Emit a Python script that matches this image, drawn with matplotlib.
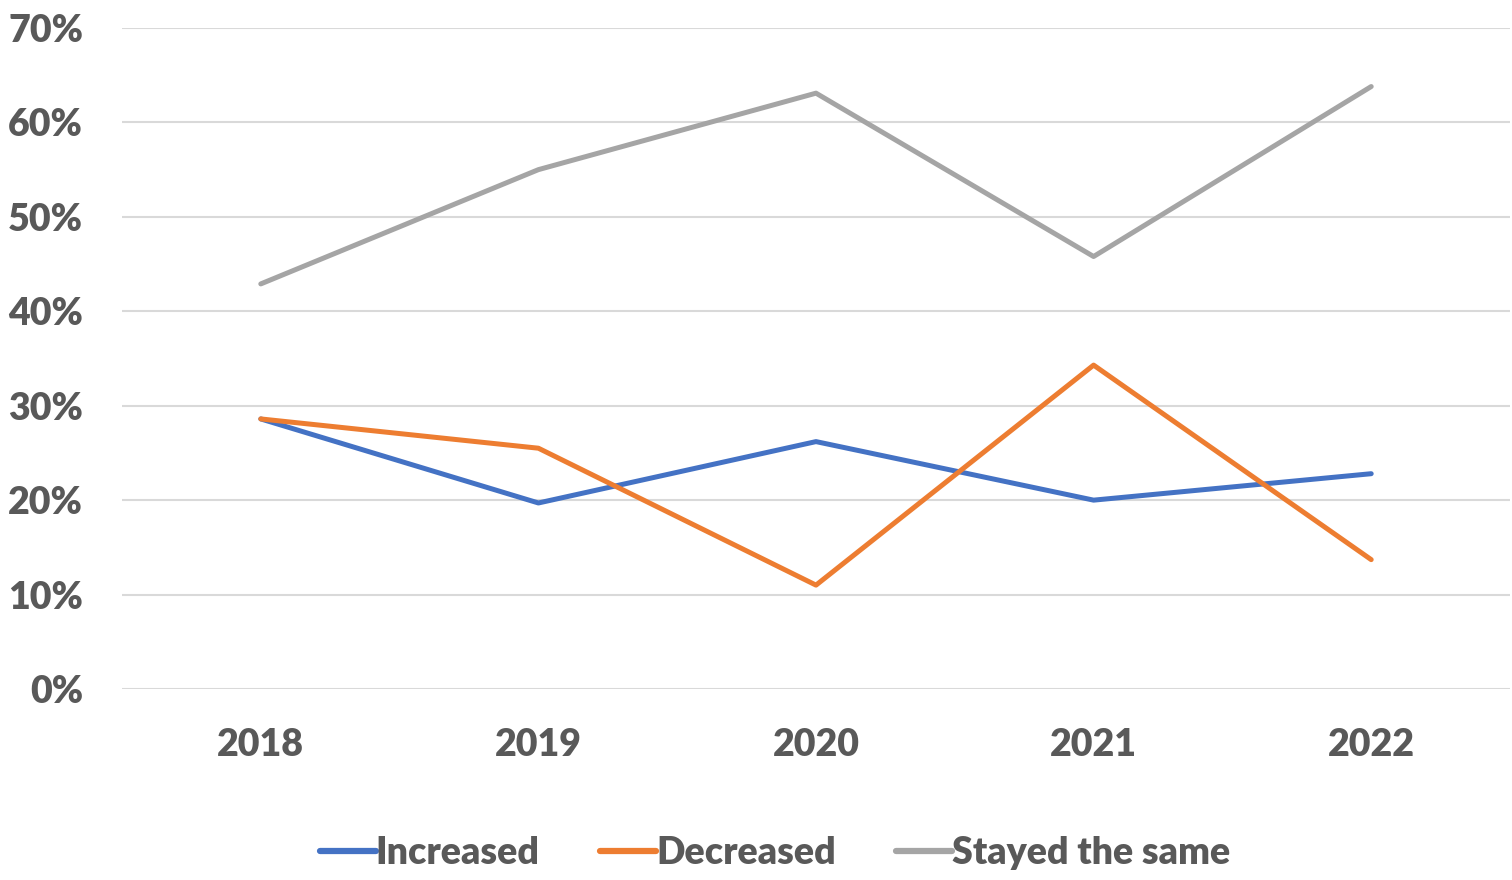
import matplotlib
matplotlib.use("Agg")
import matplotlib.pyplot as plt
from matplotlib.ticker import FuncFormatter

years = ["2018", "2019", "2020", "2021", "2022"]
increased = [28.6, 19.7, 26.2, 20.0, 22.8]
decreased = [28.6, 25.5, 11.0, 34.3, 13.7]
stayed_same = [42.9, 55.0, 63.1, 45.8, 63.8]

series = [
    ("Increased", increased, "#4472C4"),
    ("Decreased", decreased, "#ED7D31"),
    ("Stayed the same", stayed_same, "#A5A5A5"),
]

text_color = "#595959"
plt.rcParams["font.family"] = ["Lato", "DejaVu Sans"]
plt.rcParams["font.weight"] = "heavy"

fig = plt.figure(figsize=(15.12, 8.8), dpi=100)
ax = fig.add_axes([122 / 1512, 1 - 689 / 880, (1510 - 122) / 1512, (689 - 28) / 880])

x = range(len(years))
for name, values, color in series:
    ax.plot(x, values, color=color, linewidth=3.6, label=name,
            solid_capstyle="round", solid_joinstyle="round")

ax.set_xlim(-0.5, len(years) - 0.5)
ax.set_ylim(0, 70)
ax.set_yticks(range(0, 71, 10))
ax.yaxis.set_major_formatter(FuncFormatter(lambda v, p: f"{int(v)}%"))
ax.set_xticks(list(x))
ax.set_xticklabels(years)

ax.grid(axis="y", color="#D9D9D9", linewidth=1.5)
ax.set_axisbelow(True)
for side in ["top", "right", "left", "bottom"]:
    ax.spines[side].set_visible(False)
ax.tick_params(axis="both", length=0, labelsize=27, labelcolor=text_color)
ax.tick_params(axis="y", pad=28)
ax.tick_params(axis="x", pad=28)

leg = fig.legend(loc="center", bbox_to_anchor=(775 / 1512, 1 - 853 / 880), ncol=3,
                 frameon=False, fontsize=27, handlelength=1.5, handletextpad=0.0,
                 columnspacing=1.6, labelcolor=text_color)
for h in leg.legend_handles:
    h.set_linewidth(4.5)

fig.savefig("out.png", dpi=100)
